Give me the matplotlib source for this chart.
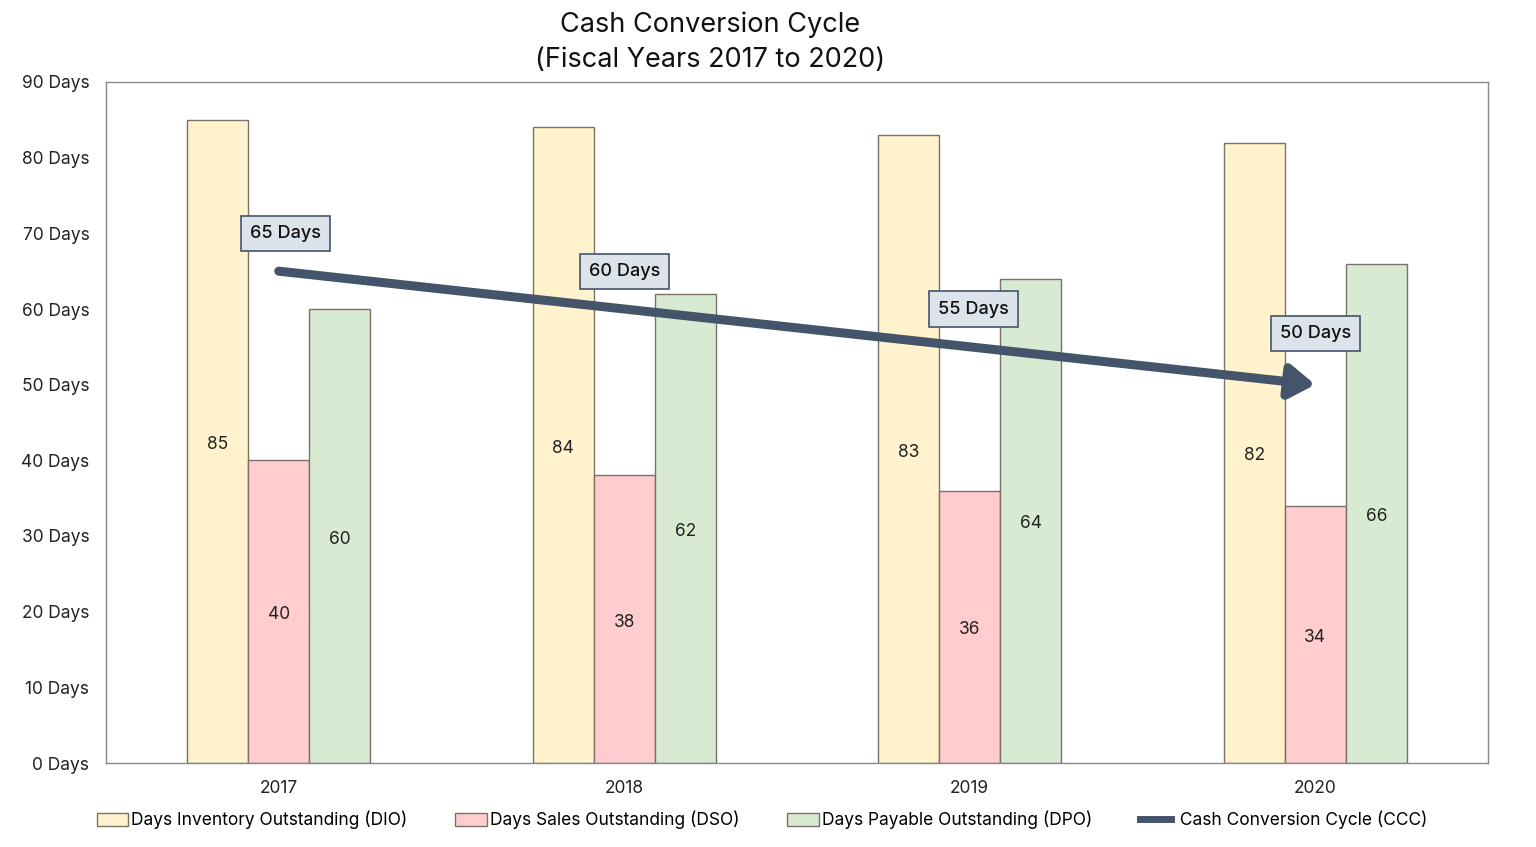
import matplotlib.pyplot as plt
import numpy as np
from matplotlib.patches import Patch
from matplotlib.lines import Line2D

plt.rcParams['font.family'] = ['Inter', 'DejaVu Sans']

years = ['2017', '2018', '2019', '2020']
dio = [85, 84, 83, 82]
dso = [40, 38, 36, 34]
dpo = [60, 62, 64, 66]
ccc = [65, 60, 55, 50]
ccc_label_y = [70, 65, 60, 56.7]

DIO_COLOR = '#fff2cc'
DSO_COLOR = '#ffcccf'
DPO_COLOR = '#d9ead3'
EDGE = '#7a7266'
CCC_COLOR = '#44546a'

fig = plt.figure(figsize=(15.36, 8.47), dpi=100)
ax = fig.add_axes([106 / 1536, 1 - 763 / 847, 1382 / 1536, 681 / 847])

x = np.arange(len(years))
w = 0.1766
series = [(dio, DIO_COLOR, -w), (dso, DSO_COLOR, 0), (dpo, DPO_COLOR, w)]
for vals, col, off in series:
    bars = ax.bar(x + off, vals, w, color=col, edgecolor=EDGE, linewidth=1)
    for b, v in zip(bars, vals):
        ax.text(b.get_x() + b.get_width() / 2, v / 2 - 0.4, str(v), ha='center', va='center',
                fontsize=12.5, color='#222222')

# CCC trend arrow
ax.annotate('', xy=(x[-1], ccc[-1]), xytext=(x[0], ccc[0]),
            arrowprops=dict(arrowstyle='-|>,head_length=1.5,head_width=1.0', color=CCC_COLOR,
                            lw=6.5, shrinkA=0, shrinkB=0))
label_dx = [0.02, 0.0, 0.01, 0.0]
for xi, v, ly, dx in zip(x, ccc, ccc_label_y, label_dx):
    ax.text(xi + dx, ly, f'{v} Days', ha='center', va='center', fontsize=13, color='#111111',
            fontweight='medium',
            bbox=dict(boxstyle='square,pad=0.5', fc='#dde3ea', ec=CCC_COLOR, lw=1.2))

ax.set_xlim(-0.5, 3.5)
ax.set_ylim(0, 90)
ax.set_xticks(x)
ax.set_xticklabels(years)
ax.set_yticks(np.arange(0, 91, 10))
ax.set_yticklabels([f'{t} Days' for t in range(0, 91, 10)])
ax.tick_params(length=0, labelsize=12.5, colors='#222222')
ax.tick_params(axis='y', pad=12)
ax.tick_params(axis='x', pad=12)
for s in ax.spines.values():
    s.set_color('#888888')
    s.set_linewidth(1)

fig.text(710 / 1536, 1 - 25 / 847, 'Cash Conversion Cycle', ha='center', va='center',
         fontsize=19.5, color='#111111')
fig.text(710 / 1536, 1 - 60 / 847, '(Fiscal Years 2017 to 2020)', ha='center', va='center',
         fontsize=19.5, color='#111111')

handles = [
    Patch(facecolor=DIO_COLOR, edgecolor=EDGE, label='Days Inventory Outstanding (DIO)'),
    Patch(facecolor=DSO_COLOR, edgecolor=EDGE, label='Days Sales Outstanding (DSO)'),
    Patch(facecolor=DPO_COLOR, edgecolor=EDGE, label='Days Payable Outstanding (DPO)'),
    Line2D([0], [0], color=CCC_COLOR, lw=5, label=' Cash Conversion Cycle (CCC)'),
]
fig.legend(handles=handles, loc='center', bbox_to_anchor=(762 / 1536, 1 - 820 / 847), ncol=4,
           frameon=False, fontsize=12.5, handlelength=1.8, handleheight=0.8, handletextpad=0.2,
           columnspacing=2.75)

fig.savefig('out.png', dpi=100)
